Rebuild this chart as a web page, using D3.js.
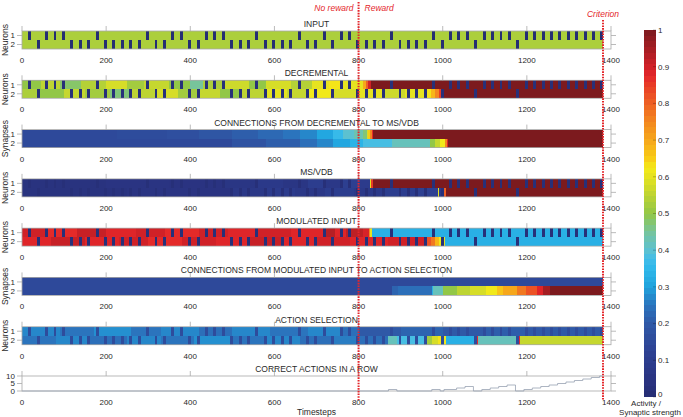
<!DOCTYPE html>
<html><head><meta charset="utf-8">
<script src="https://cdn.jsdelivr.net/npm/d3@7"></script>
<style>
body{margin:0;background:#fff}
svg{display:block;font-family:"Liberation Sans",Arial,Helvetica,sans-serif}
</style>
</head><body>
<svg id="chart" width="683" height="417"></svg>
<script>
// ---------------- DATA ----------------
const xTicks = [0, 200, 400, 600, 800, 1000, 1200, 1400];
const rowTicks = [1, 2];
const countTicks = [0, 5, 10];
const colorbarTicks = [0, 0.1, 0.2, 0.3, 0.4, 0.5, 0.6, 0.7, 0.8, 0.9, 1];
const panelTitles = ["INPUT", "DECREMENTAL", "CONNECTIONS FROM DECREMENTAL TO MS/VDB", "MS/VDB",
  "MODULATED INPUT", "CONNECTIONS FROM MODULATED INPUT TO ACTION SELECTION", "ACTION SELECTION",
  "CORRECT ACTIONS IN A ROW"];
const panelYLabels = ["Neurons", "Neurons", "Synapses", "Neurons", "Neurons", "Synapses", "Neurons", ""];
const xMax = 1400;
const rewardTime = 800;
const criterionTime = 1381;

// input presentations: onset time and which neuron (row) received it
const trialOnsets = [15,35,55,75,95,115,135,155,175,195,215,235,255,275,295,315,335,355,375,395,
  415,435,455,475,495,515,535,555,575,595,615,635,655,675,695,715,735,755,775,795,
  815,835,855,875,895,915,935,955,975,995,1015,1035,1055,1075,1095,1115,1135,1155,1175,1195,
  1215,1235,1255,1275,1295,1315,1335,1355,1375];
const inputRows = [1,2,1,1,1,2,2,2,1,2, 2,2,2,2,1,2,2,1,1,2, 2,1,1,1,2,2,2,1,2,2,
  2,2,1,2,2,1,2,1,1,2, 2,2,2,1,2,2,2,2,1,2, 1,1,1,2,1,1,1,1,2,1, 1,1,1,1,1,1,1,1,1];
const markDuration = 7;

// background activity per row as [start, end, value] segments
const inputRow1 = [[0,1380,0.53]];
const inputRow2 = [[0,1380,0.53]];
const inputMark = 0;

const decRow1 = [[0,45,0.5],[45,90,0.55],[90,140,0.48],[140,200,0.54],[200,250,0.58],[250,290,0.52],[290,350,0.56],
  [350,400,0.5],[400,430,0.45],[430,480,0.53],[480,540,0.57],[540,580,0.5],[580,640,0.58],[640,690,0.54],
  [690,730,0.6],[730,760,0.63],[760,811,0.6],[811,817,0.7],[817,823,0.8],[823,830,0.9],[830,1380,1]];
const decRow2 = [[0,40,0.53],[40,100,0.5],[100,150,0.56],[150,210,0.52],[210,260,0.47],[260,320,0.55],[320,370,0.58],
  [370,420,0.52],[420,470,0.56],[470,520,0.5],[520,580,0.55],[580,630,0.6],[630,680,0.56],[680,740,0.62],
  [740,800,0.58],[800,860,0.6],[860,910,0.57],[910,962,0.6],[962,972,0.63],[972,982,0.68],[982,990,0.75],
  [990,996,0.85],[996,1001,0.9],[1001,1380,1]];
const decMark = 0.02;

const conn1Row1 = [[0,225,0.15],[225,345,0.16],[345,420,0.17],[420,500,0.19],[500,560,0.21],[560,620,0.23],
  [620,660,0.25],[660,700,0.27],[700,740,0.31],[740,764,0.36],[764,790,0.4],[790,810,0.43],[810,819,0.47],
  [819,823,0.58],[823,827,0.65],[827,831,0.75],[831,835,0.87],[835,1380,1]];
const conn1Row2 = [[0,500,0.15],[500,580,0.18],[580,660,0.21],[660,700,0.24],[700,740,0.27],[740,780,0.31],
  [780,811,0.34],[811,880,0.38],[880,970,0.42],[970,982,0.5],[982,993,0.56],[993,1005,0.62],[1005,1011,0.75],
  [1011,1013,0.88],[1013,1380,1]];

const msRow1 = [[0,200,0.04],[200,350,0.05],[350,480,0.045],[480,560,0.06],[560,620,0.08],[620,680,0.06],
  [680,720,0.1],[720,760,0.07],[760,800,0.11],[800,827,0.09],[827,830,0.6],[830,834,0.85],[834,1380,1]];
const msRow2 = [[0,250,0.04],[250,400,0.05],[400,500,0.045],[500,580,0.07],[580,650,0.09],[650,720,0.07],
  [720,790,0.1],[790,860,0.08],[860,940,0.1],[940,988,0.12],[988,992,0.6],[992,1003,0.08],[1003,1007,0.8],
  [1007,1380,1]];
const msMark = 0.02;

const modRow1 = [[0,60,0.9],[60,130,0.87],[130,200,0.91],[200,270,0.88],[270,340,0.9],[340,420,0.87],[420,490,0.9],
  [490,560,0.88],[560,640,0.9],[640,720,0.88],[720,745,0.93],[745,770,0.88],[770,811,0.92],[811,825,0.89],
  [825,828,0.75],[828,831,0.6],[831,1380,0.33]];
const modRow2 = [[0,70,0.88],[70,150,0.91],[150,230,0.88],[230,300,0.9],[300,380,0.87],[380,460,0.9],[460,540,0.88],
  [540,620,0.91],[620,700,0.88],[700,780,0.9],[780,870,0.88],[870,962,0.9],[962,972,0.82],[972,982,0.77],
  [982,990,0.68],[990,995,0.62],[995,1003,0.3],[1003,1006,0.6],[1006,1380,0.33]];
const modMark = 0.02;

const conn2Row1 = [[0,1380,0.15]];
const conn2Row2 = [[0,879,0.15],[879,894,0.22],[894,974,0.24],[974,978,0.33],[978,1001,0.42],[1001,1033,0.5],
  [1033,1065,0.55],[1065,1104,0.58],[1104,1128,0.62],[1128,1144,0.66],[1144,1176,0.7],[1176,1199,0.77],
  [1199,1223,0.82],[1223,1239,0.88],[1239,1255,0.95],[1255,1380,1]];

const asRow1 = [[0,90,0.27],[90,170,0.25],[170,260,0.28],[260,330,0.25],[330,420,0.27],[420,500,0.24],[500,590,0.27],
  [590,680,0.25],[680,760,0.27],[760,800,0.24],[800,900,0.2],[900,1000,0.22],[1000,1100,0.2],[1100,1200,0.21],
  [1200,1380,0.2]];
const asRow2 = [[0,80,0.25],[80,160,0.27],[160,250,0.24],[250,330,0.27],[330,410,0.25],[410,500,0.28],[500,580,0.25],
  [580,660,0.27],[660,740,0.24],[740,800,0.26],[800,870,0.24],[870,892,0.42],[892,962,0.38],[962,975,0.52],
  [975,988,0.58],[988,995,0.63],[995,1003,0.2],[1003,1008,0.62],[1008,1075,0.33],[1075,1081,0.15],[1081,1084,0.87],
  [1084,1175,0.42],[1175,1181,0.15],[1181,1184,0.87],[1184,1380,0.56]];
const asMark = 0.16;

// correct actions in a row: [time, count] (step function)
const countSteps = [[0,0],[871,1],[891,0],[974,1],[994,0],[1003,1],[1033,2],[1053,3],[1073,0],[1093,1],[1113,2],
  [1133,3],[1153,4],[1173,0],[1193,1],[1213,2],[1233,3],[1253,4],[1273,5],[1293,6],[1313,7],[1333,8],[1353,9],
  [1373,10],[1380,10]];

// colormap (jet as printed) sampled from the colour bar
const colorStopValues = [0,0.05,0.1,0.125,0.2,0.25,0.3,0.35,0.375,0.4,0.45,0.5,0.55,0.6,0.625,0.65,0.7,0.75,0.8,0.85,0.875,0.9,0.95,1];
const colorStopColors = ["#252d73","#2a3482","#2c3d8e","#2e4193","#2f59a7","#2b74bd","#1fa3dd","#2fb8ea","#42bde8",
  "#5cc1d0","#77c49b","#92c747","#bdd433","#e6e320","#f4ea19","#f8cb16","#f6a71b","#f3871f","#ee6124","#e83b26",
  "#e3262a","#d02127","#a41e23","#7c1a1e"];

// ---------------- DRAW ----------------
const svg = d3.select("#chart");
const color = d3.scaleLinear().domain(colorStopValues).range(colorStopColors).clamp(true);
const x = d3.scaleLinear().domain([0, xMax]).range([22, 611]);
const panelTop = d3.scalePoint().domain(d3.range(8)).range([31, 376]);
const heatH = 18, countH = 15;
const axisCol = "#a9a9a9", textCol = "#2a2a2a";
const tickFont = 8, titleFont = 8.5;

const heatPanels = [
  {rows:[inputRow1, inputRow2], mark: inputMark},
  {rows:[decRow1, decRow2], mark: decMark},
  {rows:[conn1Row1, conn1Row2], mark: null},
  {rows:[msRow1, msRow2], mark: msMark},
  {rows:[modRow1, modRow2], mark: modMark},
  {rows:[conn2Row1, conn2Row2], mark: null},
  {rows:[asRow1, asRow2], mark: asMark}
];
const marks = trialOnsets.map((t, i) => ({t0: t, t1: t + markDuration, row: inputRows[i]}));

function drawFrame(g, top, h, yTickVals, yPos) {
  g.append("rect").attr("x", x(0)).attr("y", top).attr("width", x(xMax) - x(0)).attr("height", h)
    .attr("fill", "none").attr("stroke", axisCol).attr("stroke-width", 0.8);
  g.selectAll(".tt").data(xTicks).enter().append("line")
    .attr("x1", d => x(d)).attr("x2", d => x(d)).attr("y1", top).attr("y2", top - 5)
    .attr("stroke", axisCol).attr("stroke-width", 0.8);
  g.selectAll(".xl").data(xTicks).enter().append("text")
    .attr("x", d => x(d)).attr("y", top + h + 14).attr("text-anchor", "middle")
    .attr("font-size", tickFont).attr("fill", textCol).text(d => d);
  g.selectAll(".ly").data(yTickVals).enter().append("line")
    .attr("x1", x(0) - 5).attr("x2", x(0)).attr("y1", d => yPos(d)).attr("y2", d => yPos(d))
    .attr("stroke", axisCol).attr("stroke-width", 0.8);
  g.selectAll(".ry").data(yTickVals).enter().append("line")
    .attr("x1", x(xMax)).attr("x2", x(xMax) + 5).attr("y1", d => yPos(d)).attr("y2", d => yPos(d))
    .attr("stroke", axisCol).attr("stroke-width", 0.8);
  g.selectAll(".yl").data(yTickVals).enter().append("text")
    .attr("x", x(0) - 7).attr("y", d => yPos(d)).attr("dy", "0.35em").attr("text-anchor", "end")
    .attr("font-size", tickFont).attr("fill", textCol).text(d => d);
}

heatPanels.forEach((p, i) => {
  const top = panelTop(i);
  const g = svg.append("g");
  const y = d3.scaleBand().domain(rowTicks).range([top, top + heatH]);
  p.rows.forEach((segs, r) => {
    g.selectAll(null).data(segs).enter().append("rect")
      .attr("x", d => x(d[0])).attr("width", d => x(d[1]) - x(d[0]))
      .attr("y", y(rowTicks[r])).attr("height", y.bandwidth())
      .attr("fill", d => color(d[2])).attr("shape-rendering", "crispEdges");
  });
  if (p.mark !== null) {
    g.selectAll(null).data(marks).enter().append("rect")
      .attr("x", d => x(d.t0)).attr("width", d => x(d.t1) - x(d.t0))
      .attr("y", d => y(d.row)).attr("height", y.bandwidth())
      .attr("fill", color(p.mark)).attr("shape-rendering", "crispEdges");
  }
  drawFrame(g, top, heatH, rowTicks, d => y(d) + y.bandwidth() / 2);
  g.append("text").attr("x", (x(0) + x(xMax)) / 2).attr("y", top - 4).attr("text-anchor", "middle")
    .attr("font-size", titleFont).attr("fill", textCol).text(panelTitles[i]);
  g.append("text").attr("transform", `translate(8,${top + heatH / 2}) rotate(-90)`)
    .attr("text-anchor", "middle").attr("font-size", titleFont).attr("fill", textCol).text(panelYLabels[i]);
});

// count panel
{
  const top = panelTop(7);
  const g = svg.append("g");
  const y = d3.scaleLinear().domain([0, 10]).range([top + countH, top]);
  drawFrame(g, top, countH, countTicks, y);
  const line = d3.line().x(d => x(d[0])).y(d => y(d[1])).curve(d3.curveStepAfter);
  g.append("path").datum(countSteps).attr("d", line).attr("fill", "none")
    .attr("stroke", "#98a2b2").attr("stroke-width", 0.8);
  g.append("text").attr("x", (x(0) + x(xMax)) / 2).attr("y", top - 4).attr("text-anchor", "middle")
    .attr("font-size", titleFont).attr("fill", textCol).text(panelTitles[7]);
  g.append("text").attr("x", (x(0) + x(xMax)) / 2).attr("y", 415).attr("text-anchor", "middle")
    .attr("font-size", titleFont).attr("fill", textCol).text("Timesteps");
}

// reward / criterion lines
const red = "#e4262b";
svg.append("line").attr("x1", x(rewardTime)).attr("x2", x(rewardTime)).attr("y1", 2).attr("y2", 400)
  .attr("stroke", red).attr("stroke-width", 2).attr("stroke-dasharray", "1.6,1.1");
svg.append("line").attr("x1", x(criterionTime)).attr("x2", x(criterionTime)).attr("y1", 20).attr("y2", 400)
  .attr("stroke", red).attr("stroke-width", 2).attr("stroke-dasharray", "1.6,1.1");
svg.append("text").attr("x", x(rewardTime) - 5).attr("y", 11).attr("text-anchor", "end")
  .attr("font-size", titleFont).attr("font-style", "italic").attr("fill", red).text("No reward");
svg.append("text").attr("x", x(rewardTime) + 6).attr("y", 11).attr("text-anchor", "start")
  .attr("font-size", titleFont).attr("font-style", "italic").attr("fill", red).text("Reward");
svg.append("text").attr("x", x(criterionTime)).attr("y", 16.5).attr("text-anchor", "middle")
  .attr("font-size", titleFont).attr("font-style", "italic").attr("fill", red).text("Criterion");

// colour bar
{
  const cy = d3.scaleLinear().domain([0, 1]).range([397, 30]);
  const g = svg.append("g");
  const bands = d3.range(64);
  g.selectAll(null).data(bands).enter().append("rect")
    .attr("x", 644).attr("width", 12)
    .attr("y", d => cy((d + 1) / 64)).attr("height", d => cy(d / 64) - cy((d + 1) / 64))
    .attr("fill", d => color((d + 0.5) / 64)).attr("shape-rendering", "crispEdges");
  g.selectAll(null).data(colorbarTicks).enter().append("line")
    .attr("x1", 653).attr("x2", 656).attr("y1", d => cy(d)).attr("y2", d => cy(d))
    .attr("stroke", "#000").attr("stroke-opacity", 0.35).attr("stroke-width", 0.7);
  g.selectAll(null).data(colorbarTicks).enter().append("text")
    .attr("x", 658).attr("y", d => cy(d)).attr("dy", d => d === 0 ? "0em" : "0.35em")
    .attr("font-size", tickFont).attr("fill", textCol).text(d => d);
  g.append("text").attr("x", 646).attr("y", 405.5).attr("text-anchor", "middle")
    .attr("font-size", 8).attr("fill", textCol).text("Activity /");
  g.append("text").attr("x", 650).attr("y", 415.2).attr("text-anchor", "middle")
    .attr("font-size", 8).attr("fill", textCol).text("Synaptic strength");
}
</script>
</body></html>
